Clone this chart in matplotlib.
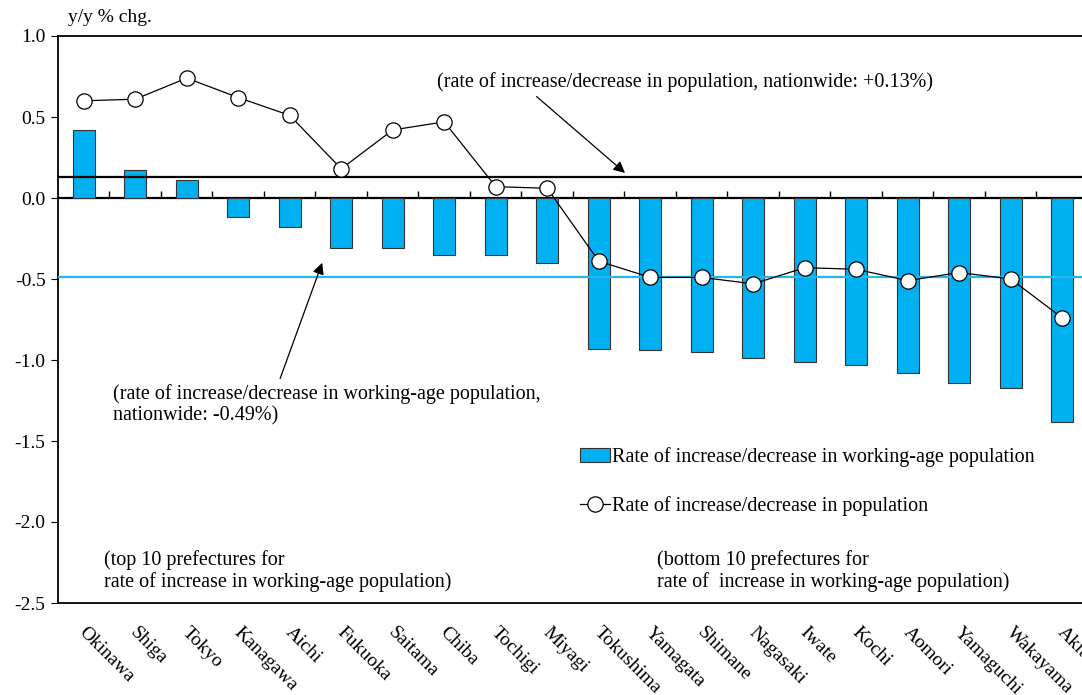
import matplotlib
matplotlib.use("Agg")
import matplotlib.pyplot as plt
import matplotlib.transforms as mtransforms
import numpy as np

prefectures = ["Okinawa", "Shiga", "Tokyo", "Kanagawa", "Aichi", "Fukuoka", "Saitama",
               "Chiba", "Tochigi", "Miyagi", "Tokushima", "Yamagata", "Shimane",
               "Nagasaki", "Iwate", "Kochi", "Aomori", "Yamaguchi", "Wakayama", "Akita"]
working_age = [0.42, 0.17, 0.11, -0.12, -0.18, -0.31, -0.31, -0.35, -0.35, -0.40,
               -0.93, -0.94, -0.95, -0.99, -1.01, -1.03, -1.08, -1.14, -1.17, -1.38]
population = [0.60, 0.61, 0.74, 0.62, 0.51, 0.18, 0.42, 0.47, 0.07, 0.06,
              -0.39, -0.49, -0.49, -0.53, -0.43, -0.44, -0.51, -0.46, -0.50, -0.74]
nat_pop = 0.13
nat_work = -0.49

plt.rcParams['font.family'] = ['Liberation Serif', 'DejaVu Serif']
blue = '#00B0F0'

fig = plt.figure(figsize=(10.82, 6.95), dpi=100)
ax = fig.add_axes([58/1082, 92/695, 1030/1082, 567/695])

x = np.arange(len(prefectures))
bars = ax.bar(x, working_age, width=0.42, color=blue, edgecolor='#333333', linewidth=0.8,
              zorder=2, label='Rate of increase/decrease in working-age population')
ax.axhline(nat_pop, color='black', lw=1.6, zorder=3)
ax.axhline(nat_work, color='#29B6EA', lw=1.6, zorder=3)
line, = ax.plot(x, population, color='black', lw=0.9, marker='o', ms=11, mfc='white',
                mec='black', mew=0.9, zorder=4, label='Rate of increase/decrease in population')

ax.set_xlim(-0.5, len(prefectures) - 0.5)
ax.set_ylim(-2.5, 1.0)
yt = np.arange(-2.5, 1.01, 0.5)
ax.set_yticks(yt)
ax.set_yticklabels([f"{v:.1f}" for v in yt])
ax.tick_params(axis='y', direction='out', length=5, labelsize=14, pad=4)
ax.set_xticks(x)
ax.set_xticklabels(prefectures, rotation=-45, ha='left', va='top',
                   rotation_mode='anchor', fontsize=14)
ax.tick_params(axis='x', length=0, pad=15)
shift = mtransforms.ScaledTranslation(4/100, 0, fig.dpi_scale_trans)
for lab in ax.get_xticklabels():
    lab.set_transform(lab.get_transform() + shift)
for s in ax.spines.values():
    s.set_linewidth(1.3)

# zero line with category-boundary ticks
sec = ax.secondary_xaxis(2.5 / 3.5)
sec.set_alignment('bottom')
sec.set_xticks(np.arange(0.5, len(prefectures) - 0.5, 1))
sec.set_xticklabels([])
sec.tick_params(direction='in', length=5, width=1)
sec.spines['bottom'].set_linewidth(1.6)

fig.text(68/1082, 1 - 18/695, 'y/y % chg.', fontsize=14, va='center', ha='left')

fs = 14.5
ax.annotate('(rate of increase/decrease in population, nationwide: +0.13%)',
            xy=(10.51, nat_pop + 0.025), xytext=(6.86, 0.716), fontsize=fs,
            ha='left', va='center',
            arrowprops=dict(arrowstyle='-|>', color='black', lw=0.9,
                            mutation_scale=17, shrinkA=2, shrinkB=0,
                            relpos=(0.19, 0.0)))
ax.annotate('(rate of increase/decrease in working-age population,\nnationwide: -0.49%)',
            xy=(4.63, nat_work + 0.09), xytext=(0.57, -1.275), fontsize=fs,
            ha='left', va='center', linespacing=1.15,
            arrowprops=dict(arrowstyle='-|>', color='black', lw=0.9,
                            mutation_scale=17, shrinkA=2, shrinkB=0,
                            relpos=(0.386, 1.0)))
ax.text(0.39, -2.305, '(top 10 prefectures for\nrate of increase in working-age population)',
        fontsize=fs, ha='left', va='center', linespacing=1.15)
ax.text(11.13, -2.305, '(bottom 10 prefectures for\nrate of  increase in working-age population)',
        fontsize=fs, ha='left', va='center', linespacing=1.15)

ax.legend(handles=[bars, line], loc='upper left', bbox_to_anchor=(570/1082, 1 - 437/695),
          bbox_transform=fig.transFigure, frameon=False, fontsize=fs,
          handlelength=1.5, handletextpad=0.1, labelspacing=1.45, borderpad=0)

fig.savefig('out.png', dpi=100)
